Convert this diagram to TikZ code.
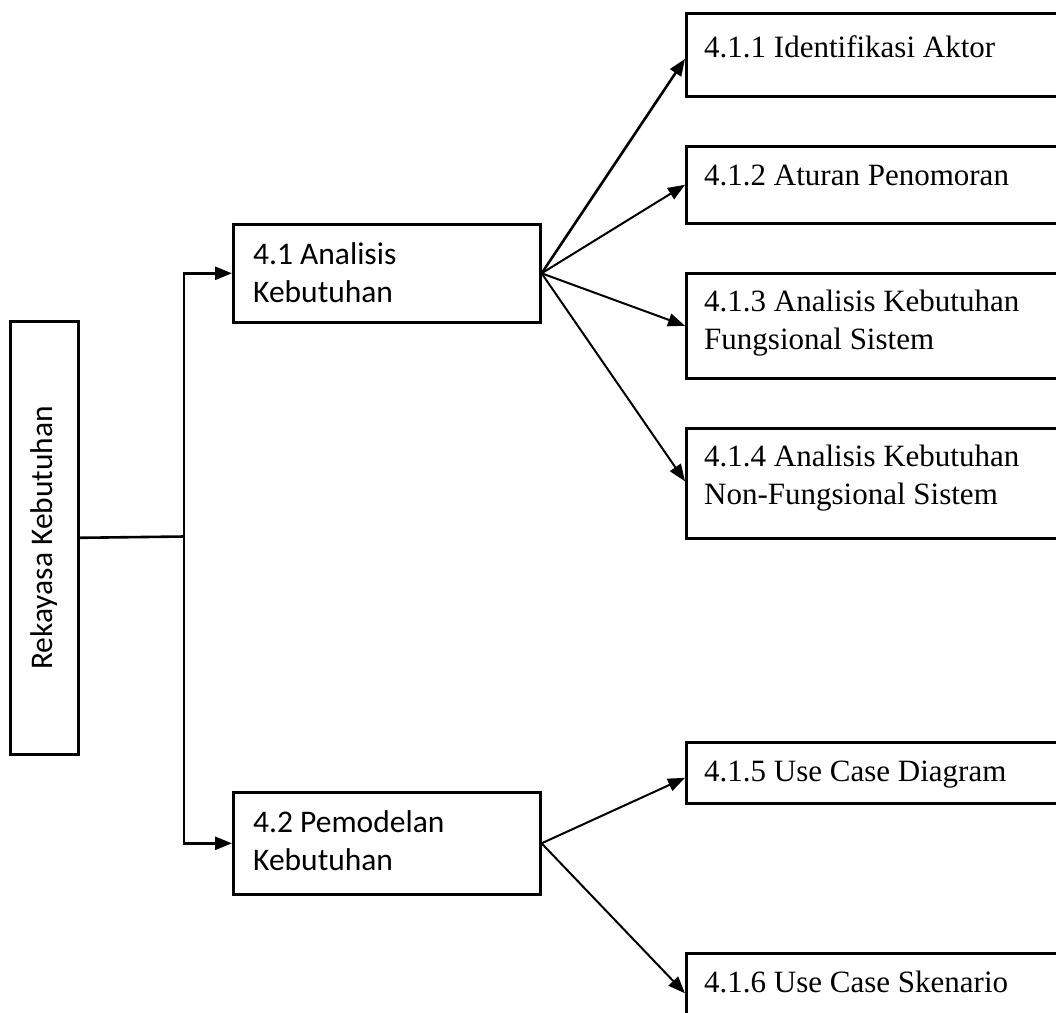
\documentclass[tikz,border=0pt]{standalone}
\usepackage{fontspec}
\setmainfont{Liberation Serif}
\newfontfamily\calib{Carlito}
\usetikzlibrary{arrows.meta}
\begin{document}
\begin{tikzpicture}[x=1pt,y=-1pt,
  box/.style={draw, line width=2.6pt, rectangle, inner sep=0pt, anchor=north west},
  lbl/.style={anchor=base west, inner sep=0pt, align=left},
  sansl/.style={font=\calib\fontsize{31.5}{38}\selectfont},
  serifl/.style={font=\fontsize{31}{38}\selectfont},
  arr/.style={-{Triangle[length=17pt,width=13pt]}, line width=2pt},
  ln/.style={line width=2.6pt}]
\fill[white] (0,0) rectangle (1056,1012);
\clip (0,0) rectangle (1056,1012);
% root
\node[box, minimum width=68pt, minimum height=433pt] (root) at (9,320) {};
\node[sansl, rotate=90, inner sep=0pt] (roottxt) at (root.center) {Rekayasa Kebutuhan};
% level 1
\node[box, minimum width=307pt, minimum height=98pt] (a41) at (232,223) {};
\node[box, minimum width=307pt, minimum height=102pt] (a42) at (232,791) {};
\node[lbl, sansl] (t41) at (253,302) {4.1 Analisis\\Kebutuhan};
\node[lbl, sansl] (t42) at (253,870) {4.2 Pemodelan\\Kebutuhan};
% level 2
\node[box, minimum width=420pt, minimum height=83pt] (b1) at (685,12) {};
\node[box, minimum width=420pt, minimum height=77pt] (b2) at (685,145) {};
\node[box, minimum width=420pt, minimum height=105pt] (b3) at (685,272) {};
\node[box, minimum width=420pt, minimum height=110pt] (b4) at (685,427) {};
\node[box, minimum width=420pt, minimum height=61pt] (b5) at (685,741) {};
\node[box, minimum width=420pt, minimum height=80pt] (b6) at (685,952) {};
\node[lbl, serifl] (t1) at (704,57) {4.1.1 Identifikasi Aktor};
\node[lbl, serifl] (t2) at (704,185) {4.1.2 Aturan Penomoran};
\node[lbl, serifl] (t3) at (704,349) {4.1.3 Analisis Kebutuhan\\Fungsional Sistem};
\node[lbl, serifl] (t4) at (704,504) {4.1.4 Analisis Kebutuhan\\Non-Fungsional Sistem};
\node[lbl, serifl] (t5) at (704,781) {4.1.5 Use Case Diagram};
\node[lbl, serifl] (t6) at (704,992) {4.1.6 Use Case Skenario};
% connectors
\coordinate (j) at (184,536.5);
\draw[ln] (root.east) -- (j);
\draw[arr, line width=2.6pt] (j) |- (a41.west);
\draw[arr, line width=2.6pt] (j) |- (a42.west);
\draw[arr, line width=2.6pt] (a41.east) -- ([yshift=-4pt]b1.west);
\draw[arr] (a41.east) -- (b2.west);
\draw[arr] (a41.east) -- (b3.west);
\draw[arr] (a41.east) -- ([yshift=2pt]b4.west);
\draw[arr] (a42.east) -- ([yshift=-5pt]b5.west);
\draw[arr] (a42.east) -- (b6.west);
\end{tikzpicture}
\end{document}
